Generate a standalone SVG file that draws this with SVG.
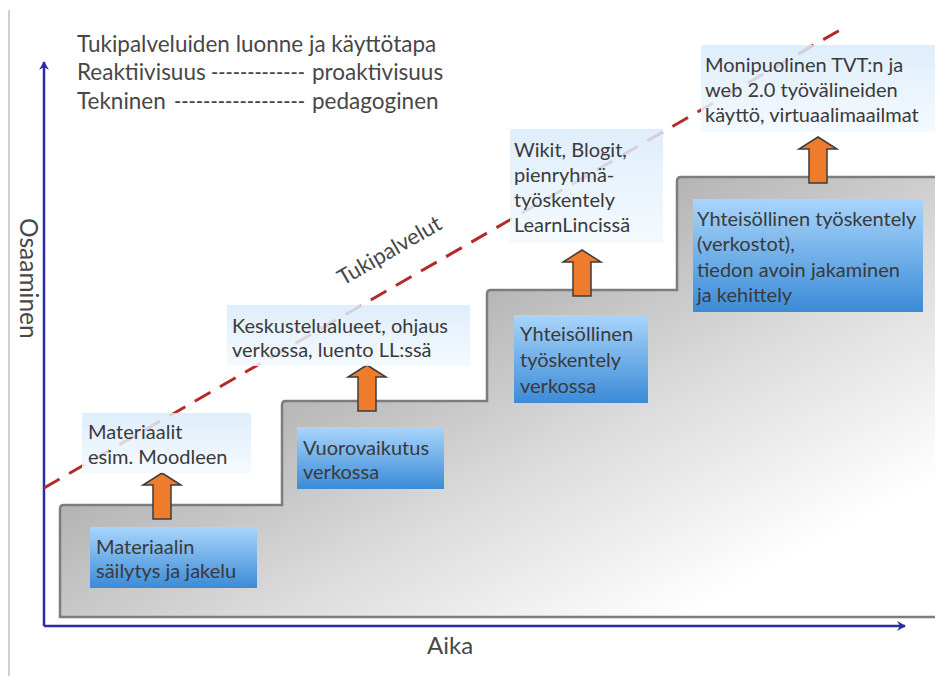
<svg xmlns="http://www.w3.org/2000/svg" width="935" height="676" viewBox="0 0 935 676">
<defs>
<linearGradient id="stairGrad" gradientUnits="userSpaceOnUse" x1="430" y1="250" x2="640" y2="640">
<stop offset="0" stop-color="#a9a9a9"/>
<stop offset="0.55" stop-color="#dcdcdc"/>
<stop offset="1" stop-color="#ffffff"/>
</linearGradient>
<linearGradient id="blueGrad" x1="0" y1="0" x2="0" y2="1">
<stop offset="0" stop-color="#a9d5fb"/>
<stop offset="1" stop-color="#3b8bd7"/>
</linearGradient>
<linearGradient id="lightGrad" x1="0" y1="0" x2="0" y2="1">
<stop offset="0" stop-color="#d9ebfb"/>
<stop offset="1" stop-color="#f3f9fe"/>
</linearGradient>
<marker id="axisHead" markerWidth="10" markerHeight="10" refX="8" refY="5" orient="auto" markerUnits="userSpaceOnUse">
<path d="M0,0 L9,5 L0,10 L3,5 Z" fill="#2b2ba3"/>
</marker>
<path id="upArrow" d="M0,0 L19,12 L9,12 L9,46 L-9,46 L-9,12 L-19,12 Z"/>
</defs>
<style>
text { font-family: Lato, "Open Sans", "Liberation Sans", sans-serif; fill: #474747; }
.box { font-size: 20px; fill: #3a3a3a; }
.head { font-size: 22.5px; }
.blue { fill: url(#blueGrad); }
.light { fill: url(#lightGrad); fill-opacity: 0.85; }
.arrow { fill: #ef7b2c; stroke: #3d3d3d; stroke-width: 1.5; }
.axis { stroke: #2b2ba3; stroke-width: 2.5; fill: none; }
</style>
<rect width="935" height="676" fill="#ffffff"/>
<line x1="9" y1="10" x2="9" y2="676" stroke="#cfcfcf" stroke-width="2"/>

<g id="stairs">
<path d="M60,617 L60,509 Q60,505 64,505 L282,505 L282,405 Q282,401 286,401 L487,401 L487,294 Q487,290 491,290 L677,290 L677,181 Q677,177 681,177 L937,177 L937,617 Z" fill="url(#stairGrad)" stroke="#7d7d7d" stroke-width="2.5"/>
</g>

<g id="connectors">
<line class="axis" x1="44" y1="626" x2="44" y2="62" marker-end="url(#axisHead)"/>
<line class="axis" x1="44" y1="626" x2="905" y2="626" marker-end="url(#axisHead)"/>
<line id="tuki-line" x1="44" y1="488" x2="840" y2="30" stroke="#b42a2a" stroke-width="3" stroke-dasharray="18 11"/>
<use href="#upArrow" class="arrow" x="162" y="473"/>
<use href="#upArrow" class="arrow" x="367" y="365"/>
<use href="#upArrow" class="arrow" x="582" y="250"/>
<use href="#upArrow" class="arrow" x="818" y="137"/>
</g>

<g id="header">
<text class="head" x="77" y="52">Tukipalveluiden luonne ja käyttötapa</text>
<text class="head" y="80"><tspan x="77">Reaktiivisuus</tspan><tspan x="211" textLength="94" lengthAdjust="spacingAndGlyphs">-------------</tspan><tspan x="312">proaktivisuus</tspan></text>
<text class="head" y="109"><tspan x="77">Tekninen</tspan><tspan x="174" textLength="131" lengthAdjust="spacingAndGlyphs">------------------</tspan><tspan x="312">pedagoginen</tspan></text>
</g>

<g id="label-tukipalvelut">
<text x="0" y="0" font-size="22" transform="translate(343,286) rotate(-30)">Tukipalvelut</text>
</g>

<g id="axis-y-label">
<text x="0" y="0" font-size="24.5" transform="translate(20,218) rotate(90)">Osaaminen</text>
</g>
<g id="axis-x-label">
<text x="427" y="654" font-size="24">Aika</text>
</g>

<g id="n1">
<rect class="blue" x="90" y="527" width="167" height="61"/>
<text class="box" x="96" y="554">Materiaalin</text>
<text class="box" x="96" y="578">säilytys ja jakelu</text>
</g>
<g id="n2">
<rect class="blue" x="297" y="427" width="147" height="62"/>
<text class="box" x="303" y="455">Vuorovaikutus</text>
<text class="box" x="303" y="479">verkossa</text>
</g>
<g id="n3">
<rect class="blue" x="514" y="315" width="134" height="88"/>
<text class="box" x="520" y="341">Yhteisöllinen</text>
<text class="box" x="520" y="367">työskentely</text>
<text class="box" x="520" y="393">verkossa</text>
</g>
<g id="n4">
<rect class="blue" x="693" y="199" width="230" height="113"/>
<text class="box" x="697" y="226">Yhteisöllinen työskentely</text>
<text class="box" x="697" y="251">(verkostot),</text>
<text class="box" x="697" y="277">tiedon avoin jakaminen</text>
<text class="box" x="697" y="302">ja kehittely</text>
</g>

<g id="s1">
<rect class="light" x="82" y="413" width="169" height="60"/>
<text class="box" x="88" y="439">Materiaalit</text>
<text class="box" x="88" y="464">esim. Moodleen</text>
</g>
<g id="s2">
<rect class="light" x="227" y="305" width="243" height="61"/>
<text class="box" x="232" y="333">Keskustelualueet, ohjaus</text>
<text class="box" x="232" y="357">verkossa, luento LL:ssä</text>
</g>
<g id="s3">
<rect class="light" x="510" y="129" width="153" height="114"/>
<text class="box" x="514" y="157">Wikit, Blogit,</text>
<text class="box" x="514" y="182">pienryhmä-</text>
<text class="box" x="514" y="207">työskentely</text>
<text class="box" x="514" y="232">LearnLincissä</text>
</g>
<g id="s4">
<rect class="light" x="701" y="45" width="234" height="87"/>
<text class="box" x="705" y="72">Monipuolinen TVT:n ja</text>
<text class="box" x="705" y="97">web 2.0 työvälineiden</text>
<text class="box" x="705" y="122">käyttö, virtuaalimaailmat</text>
</g>
</svg>
